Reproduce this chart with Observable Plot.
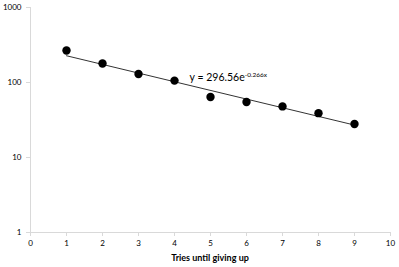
<!DOCTYPE html>
<html><head><meta charset="utf-8">
<script src="https://cdn.jsdelivr.net/npm/d3@7"></script>
<script src="https://cdn.jsdelivr.net/npm/@observablehq/plot@0.6"></script>
<style>body{margin:0;background:#fff;} svg{font-family:Lato,"Open Sans",sans-serif;}</style>
</head><body><div id="chart"></div>
<script>
const tries = [1, 2, 3, 4, 5, 6, 7, 8, 9];
const counts = [267, 179, 130, 106, 64, 55, 48, 39, 28];
const fitA = 296.56;
const fitB = -0.266;
const fitRange = [1, 9];
const xTicks = [0,1,2,3,4,5,6,7,8,9,10];
const yTicks = [1, 10, 100, 1000];
const xLabel = "Tries until giving up";
const eqMain = "y = 296.56e";
const eqSup = "-0.266x";

const points = tries.map((t, i) => ({x: t, y: counts[i]}));
const fit = fitRange.map(x => ({x, y: fitA * Math.exp(fitB * x)}));

const plot = Plot.plot({
  width: 399, height: 267,
  marginLeft: 30, marginRight: 9, marginTop: 7, marginBottom: 35,
  style: {fontSize: "8px", color: "#000", background: "#fff"},
  x: {domain: [0, 10], label: null},
  y: {type: "log", domain: [1, 1000], label: null},
  marks: [
    Plot.ruleX([0], {stroke: "#d9d9d9"}),
    Plot.ruleY([1], {stroke: "#d9d9d9"}),
    Plot.axisX({ticks: xTicks, tickSize: 4, tickPadding: 4, stroke: "#d9d9d9", tickFormat: d => String(d), label: null, fill: "#000", fontSize: 8}),
    Plot.axisY({ticks: yTicks, tickSize: 4, tickPadding: 5, stroke: "#d9d9d9", tickFormat: d => String(d), label: null, fill: "#000", fontSize: 8}),
    Plot.line(fit, {x: "x", y: "y", stroke: "#333", strokeWidth: 1}),
    Plot.dot(points, {x: "x", y: "y", r: 4.2, fill: "#000", stroke: "none"}),
    Plot.text([{x: 4.42, y: 106}], {x: "x", y: "y", text: () => eqMain, textAnchor: "start", lineAnchor: "bottom", fontSize: 10.5, fill: "#000"})
  ]
});
const svg = d3.select(plot);
svg.selectAll("g[aria-label=text] text").each(function() {
  d3.select(this).append("tspan").attr("dy", "-4").attr("font-size", 6.5).text(eqSup);
});
svg.append("text").attr("x", 210).attr("y", 261).attr("text-anchor", "middle")
  .attr("font-weight", "bold").attr("font-size", 9).attr("fill", "#000").text(xLabel);
document.getElementById("chart").appendChild(plot);
</script></body></html>
